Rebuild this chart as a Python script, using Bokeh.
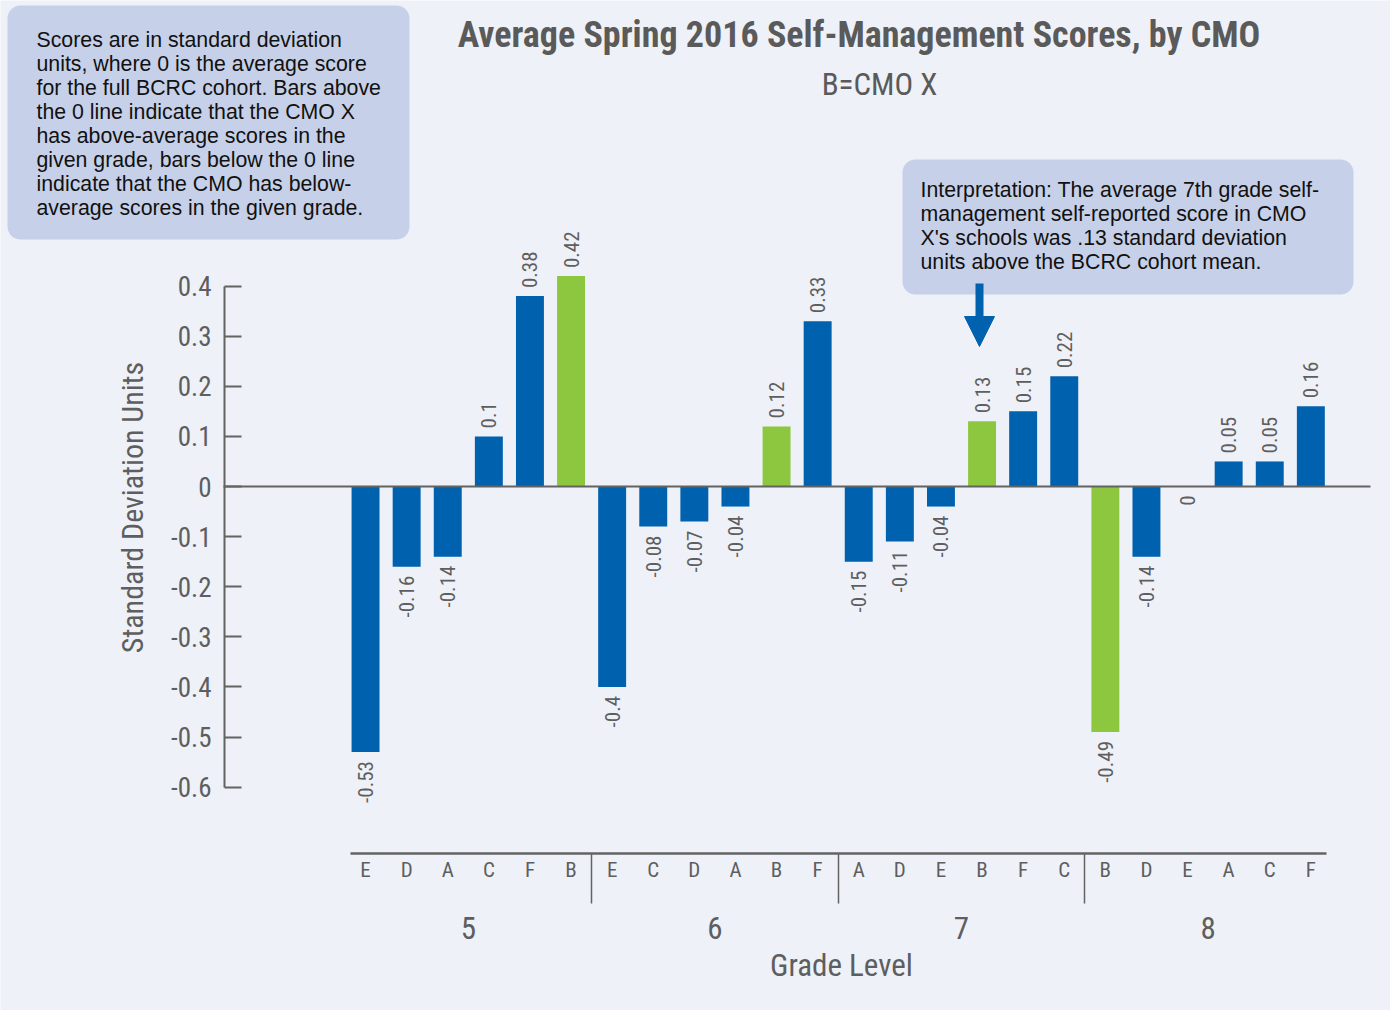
import numpy as np
from bokeh.plotting import figure
from bokeh.models import (Range1d, LinearAxis, FixedTicker, Label, BoxAnnotation,
                          Arrow, NormalHead, ColumnDataSource)
from bokeh.core.properties import value
from bokeh.embed import file_html
from bokeh.resources import INLINE

# ---------------- data ----------------
grades = ["5", "6", "7", "8"]
cmo_grade5 = ["E", "D", "A", "C", "F", "B"]
cmo_grade6 = ["E", "C", "D", "A", "B", "F"]
cmo_grade7 = ["A", "D", "E", "B", "F", "C"]
cmo_grade8 = ["B", "D", "E", "A", "C", "F"]
score_grade5 = [-0.53, -0.16, -0.14, 0.1, 0.38, 0.42]
score_grade6 = [-0.4, -0.08, -0.07, -0.04, 0.12, 0.33]
score_grade7 = [-0.15, -0.11, -0.04, 0.13, 0.15, 0.22]
score_grade8 = [-0.49, -0.14, 0.0, 0.05, 0.05, 0.16]
focus_cmo = "B"
y_ticks = [0.4, 0.3, 0.2, 0.1, 0.0, -0.1, -0.2, -0.3, -0.4, -0.5, -0.6]
y_tick_labels = ["0.4", "0.3", "0.2", "0.1", "0", "-0.1", "-0.2", "-0.3", "-0.4", "-0.5", "-0.6"]

title_text = "Average Spring 2016 Self-Management Scores, by CMO"
subtitle_text = "B=CMO X"
y_title = "Standard Deviation Units"
x_title = "Grade Level"
note_lines = ["Scores are in standard deviation",
              "units, where 0 is the average score",
              "for the full BCRC cohort. Bars above",
              "the 0 line indicate that the CMO X",
              "has above-average scores in the",
              "given grade, bars below the 0 line",
              "indicate that the CMO has below-",
              "average scores in the given grade."]
interp_lines = ["Interpretation: The average 7th grade self-",
                "management self-reported score in CMO",
                "X's schools was .13 standard deviation",
                "units above the BCRC cohort mean."]

# ---------------- styles ----------------
BG = "#EEF1F8"
BOX = "#C6D0E8"
BLUE = "#0061AF"
GREEN = "#8DC63F"
GREY = "#636363"
TXT = "#5E5E5E"
NARROW = "Roboto Condensed"
SANS = "Liberation Sans"

W, H = 1390, 1010
OX, OY = 0, 0
UNIT = 41.1            # px per category
CAT0 = 344.5           # page x of the left edge of the first category
ZERO = 486.0           # page y of value 0
PPU = 501.0            # px per 1.0 score unit


def X(px):
    return (px - CAT0) / UNIT


def Y(py):
    return (ZERO - py) / PPU


cmos = cmo_grade5 + cmo_grade6 + cmo_grade7 + cmo_grade8
scores = score_grade5 + score_grade6 + score_grade7 + score_grade8
n_per = len(cmo_grade5)
pos = [i + 0.5 for i in range(len(cmos))]
colors = [GREEN if c == focus_cmo else BLUE for c in cmos]
labels = [f"{v:g}" for v in scores]

p = figure(width=W, height=H, x_range=Range1d(X(OX), X(OX + W)),
           y_range=Range1d(Y(OY + H), Y(OY)), output_backend="svg",
           toolbar_location=None, min_border=0, x_axis_type=None, y_axis_type=None,
           background_fill_color=BG, border_fill_color=BG, outline_line_color=None)

# bars
src = ColumnDataSource(dict(x=pos, top=scores, color=colors))
p.vbar(x="x", top="top", bottom=0, width=0.68, fill_color="color", line_color=None, source=src)

# zero line
p.segment(x0=[X(223)], y0=[0], x1=[X(1370)], y1=[0], line_color=GREY, line_width=2)

# value labels
pad_up = 8 / PPU
pad_dn = 9 / PPU
pos_idx = [i for i, v in enumerate(scores) if v > 0]
neg_idx = [i for i, v in enumerate(scores) if v <= 0]
src_up = ColumnDataSource(dict(x=[pos[i] for i in pos_idx],
                               y=[scores[i] + pad_up for i in pos_idx],
                               t=[labels[i] for i in pos_idx]))
src_dn = ColumnDataSource(dict(x=[pos[i] for i in neg_idx],
                               y=[scores[i] - pad_dn for i in neg_idx],
                               t=[labels[i] for i in neg_idx]))
for s, al in ((src_up, "left"), (src_dn, "right")):
    p.text(x="x", y="y", text="t", angle=np.pi / 2, text_align=al, text_baseline="middle",
           text_font=value(NARROW), text_font_size="21px", text_color=TXT, source=s)

# y axis
yax = LinearAxis(fixed_location=X(224), bounds=(min(y_ticks), max(y_ticks)),
                 ticker=FixedTicker(ticks=y_ticks, minor_ticks=[]),
                 major_label_overrides={t: l for t, l in zip(y_ticks, y_tick_labels)},
                 axis_line_color=GREY, axis_line_width=2,
                 major_tick_line_color=GREY, major_tick_line_width=2,
                 major_tick_in=17, major_tick_out=0,
                 minor_tick_line_color=None,
                 major_label_standoff=13,
                 major_label_text_font=NARROW, major_label_text_font_size="27px",
                 major_label_text_color=TXT)
p.add_layout(yax, "left")

# category (CMO) axis
n = len(cmos)
xax = LinearAxis(fixed_location=Y(853), bounds=(0.13, n - 0.13),
                 ticker=FixedTicker(ticks=pos, minor_ticks=[]),
                 major_label_overrides={x: c for x, c in zip(pos, cmos)},
                 axis_line_color=GREY, axis_line_width=2.5,
                 major_tick_line_color=None, major_tick_in=0, major_tick_out=0,
                 minor_tick_line_color=None,
                 major_label_standoff=4,
                 major_label_text_font=NARROW, major_label_text_font_size="21px",
                 major_label_text_color=TXT)
p.add_layout(xax, "below")

# group separators
group_edges = [n_per * k for k in range(1, len(grades))]
sax = LinearAxis(fixed_location=Y(853),
                 ticker=FixedTicker(ticks=group_edges, minor_ticks=[]),
                 major_label_overrides={x: "" for x in group_edges},
                 axis_line_color=None, minor_tick_line_color=None,
                 major_tick_line_color=GREY, major_tick_line_width=1.5,
                 major_tick_in=0, major_tick_out=50,
                 major_label_text_font_size="1px", major_label_text_color=None)
p.add_layout(sax, "below")

# grade axis
grade_pos = [n_per * k + n_per / 2 for k in range(len(grades))]
gax = LinearAxis(fixed_location=Y(853),
                 ticker=FixedTicker(ticks=grade_pos, minor_ticks=[]),
                 major_label_overrides={x: g for x, g in zip(grade_pos, grades)},
                 axis_line_color=None, major_tick_line_color=None, minor_tick_line_color=None,
                 major_tick_in=0, major_tick_out=0,
                 major_label_standoff=63,
                 major_label_text_font=NARROW, major_label_text_font_size="31px",
                 major_label_text_color=TXT)
p.add_layout(gax, "below")

# axis titles
p.add_layout(Label(x=X(841), y=Y(965), text=x_title, text_align="center",
                   text_baseline="middle", text_font=NARROW, text_font_size="31px",
                   text_color=TXT))
p.add_layout(Label(x=X(132), y=Y(507), text=y_title, angle=np.pi / 2, text_align="center",
                   text_baseline="middle", text_font=NARROW, text_font_size="30px",
                   text_color=TXT))

# title / subtitle
p.add_layout(Label(x=X(858.5), y=Y(34), text=title_text, text_align="center",
                   text_baseline="middle", text_font=NARROW, text_font_style="bold",
                   text_font_size="36px", text_color="#5A5A5A"))
p.add_layout(Label(x=X(879), y=Y(84), text=subtitle_text, text_align="center",
                   text_baseline="middle", text_font=NARROW, text_font_size="31px",
                   text_color="#5A5A5A"))

# note box
p.add_layout(BoxAnnotation(left=X(7), right=X(409), top=Y(5), bottom=Y(239),
                           fill_color=BOX, fill_alpha=1, line_color=None, border_radius=13))
for i, line in enumerate(note_lines):
    p.add_layout(Label(x=X(36), y=Y(39.2 + 24.1 * i), text=line, text_align="left",
                       text_baseline="middle", text_font=SANS, text_font_size="21.3px",
                       text_color="#111111"))

# interpretation box
p.add_layout(BoxAnnotation(left=X(902), right=X(1353), top=Y(159), bottom=Y(294),
                           fill_color=BOX, fill_alpha=1, line_color=None, border_radius=13))
for i, line in enumerate(interp_lines):
    p.add_layout(Label(x=X(920), y=Y(189.3 + 24.1 * i), text=line, text_align="left",
                       text_baseline="middle", text_font=SANS, text_font_size="21.3px",
                       text_color="#111111"))

# arrow
p.add_layout(Arrow(end=NormalHead(size=30, fill_color=BLUE, line_color=BLUE),
                   x_start=X(979), y_start=Y(283), x_end=X(979), y_end=Y(346),
                   line_color=BLUE, line_width=8))

open("out.html", "w").write(file_html(p, INLINE))
